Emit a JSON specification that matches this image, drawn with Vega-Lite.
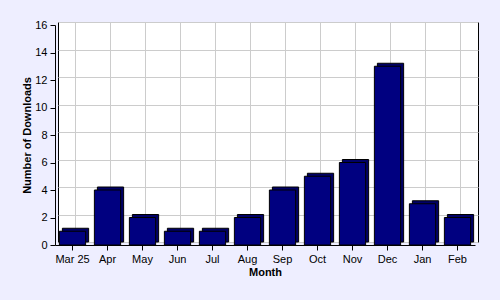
{
  "$schema": "https://vega.github.io/schema/vega-lite/v6.json",
  "width": 420,
  "height": 220,
  "autosize": {"type": "none"},
  "padding": {"left": 58, "top": 22, "right": 22, "bottom": 58},
  "background": "#EEEEFF",
  "config": {
    "view": {"fill": "white", "stroke": "black", "strokeWidth": 1},
    "font": "Liberation Sans",
    "axis": {
      "labelFont": "Liberation Sans",
      "labelFontSize": 11,
      "labelColor": "black",
      "titleFont": "Liberation Sans",
      "titleFontSize": 11,
      "titleFontWeight": "bold",
      "titleColor": "black",
      "domainColor": "black",
      "tickColor": "black",
      "tickSize": 5,
      "gridColor": "#CCCCCC",
      "gridWidth": 1
    }
  },
  "data": {
    "values": [
      {"month": "Mar 25", "downloads": 1},
      {"month": "Apr", "downloads": 4},
      {"month": "May", "downloads": 2},
      {"month": "Jun", "downloads": 1},
      {"month": "Jul", "downloads": 1},
      {"month": "Aug", "downloads": 2},
      {"month": "Sep", "downloads": 4},
      {"month": "Oct", "downloads": 5},
      {"month": "Nov", "downloads": 6},
      {"month": "Dec", "downloads": 13},
      {"month": "Jan", "downloads": 3},
      {"month": "Feb", "downloads": 2}
    ]
  },
  "encoding": {
    "x": {
      "field": "month",
      "type": "nominal",
      "sort": null,
      "scale": {"paddingInner": 0.25, "paddingOuter": 0.125}
    },
    "y": {
      "field": "downloads",
      "type": "quantitative",
      "scale": {"domain": [0, 16], "nice": false}
    }
  },
  "layer": [
    {
      "mark": {"type": "bar", "color": "#000066", "stroke": "black", "strokeWidth": 1},
      "encoding": {
        "x": {
          "field": "month", "type": "nominal", "sort": null,
          "axis": {"orient": "bottom", "grid": true, "labels": false, "ticks": false, "domain": false, "title": null}
        },
        "y": {
          "field": "downloads", "type": "quantitative",
          "axis": {"orient": "left", "grid": true, "labels": false, "ticks": false, "domain": false, "title": null, "values": [0, 2, 4, 6, 8, 10, 12, 14, 16]}
        }
      }
    },
    {
      "mark": {"type": "bar", "color": "#000080", "stroke": "black", "strokeWidth": 1, "xOffset": -3, "x2Offset": -3, "yOffset": 3, "y2Offset": 3},
      "encoding": {
        "x": {
          "field": "month", "type": "nominal", "sort": null,
          "axis": {"orient": "bottom", "grid": false, "offset": 6, "translate": -2.5, "labelAngle": 0, "labelPadding": 3, "title": "Month", "titlePadding": 2}
        },
        "y": {
          "field": "downloads", "type": "quantitative",
          "axis": {"orient": "left", "grid": false, "offset": 6, "translate": 3.5, "labelPadding": 3, "title": "Number of Downloads", "titlePadding": 2, "values": [0, 2, 4, 6, 8, 10, 12, 14, 16]}
        }
      }
    }
  ],
  "resolve": {"axis": {"x": "independent", "y": "independent"}}
}
